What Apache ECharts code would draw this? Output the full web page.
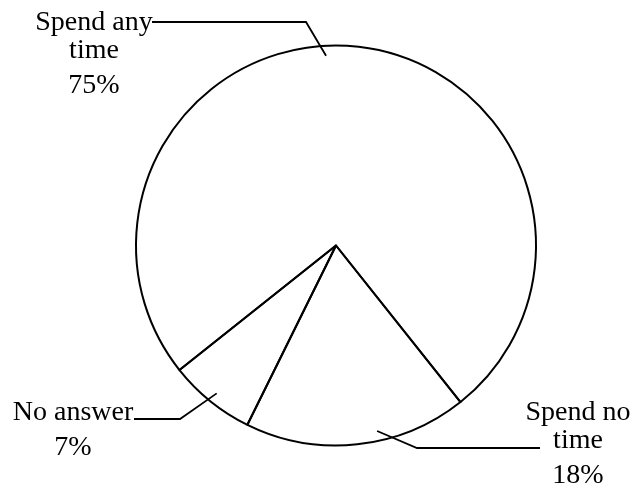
<!DOCTYPE html>
<html><head><meta charset="utf-8">
<script src="https://cdn.jsdelivr.net/npm/echarts@6/dist/echarts.min.js"></script>
<style>html,body{margin:0;padding:0;background:#fff}#chart{width:633px;height:494px}</style>
</head><body><div id="chart"></div>
<script>
// ---- data ----
const categories = ['Spend any time', 'Spend no time', 'No answer'];
const values = [75, 18, 7];
const labelTextLines = [['Spend any', 'time'], ['Spend no', 'time'], ['No answer']];

// ---- layout ----
const PIE_CENTER = [336, 245.5];
const PIE_RADIUS = 200;
const START_ANGLE = 218.5;
const labelPlacement = [
  { x: 94,  y: 8.5,   elbow: [306, 22],  endX: 152, tipShift: 9.5 },
  { x: 578, y: 398.5, elbow: [417, 448], endX: 540, tipShift: 6.4 },
  { x: 73,  y: 398.5, elbow: [180, 419], endX: 134, tipShift: 0 }
];

const total = values.reduce((a, b) => a + b, 0);
let acc = START_ANGLE;
const midAngles = values.map(v => {
  const span = v / total * 360;
  const m = acc - span / 2;
  acc -= span;
  return m;
});

const FONT = 'Liberation Serif';
const chart = echarts.init(document.getElementById('chart'));
chart.setOption({
  backgroundColor: '#fff',
  animation: false,
  series: [{
    type: 'pie',
    silent: true,
    center: PIE_CENTER,
    radius: PIE_RADIUS,
    startAngle: START_ANGLE,
    clockwise: true,
    avoidLabelOverlap: false,
    data: categories.map((c, i) => ({ name: c, value: values[i] })),
    itemStyle: { color: 'rgba(255,255,255,0)', borderColor: '#000', borderWidth: 2 },
    label: {
      show: true,
      position: 'outside',
      color: '#000',
      fontFamily: FONT,
      fontSize: 28,
      align: 'center',
      formatter: p => labelTextLines[p.dataIndex].map(l => '{n|' + l + '}').join('\n') +
        '\n{p|' + Math.round(p.percent) + '%}',
      rich: {
        n: { fontFamily: FONT, fontSize: 28, lineHeight: 28, color: '#000' },
        p: { fontFamily: FONT, fontSize: 28, lineHeight: 42, color: '#000' }
      }
    },
    labelLine: { show: true, length: 10, length2: 10, lineStyle: { color: '#000', width: 1.8 } },
    labelLayout: function (params) {
      const i = params.dataIndex;
      const cfg = labelPlacement[i];
      const a = (midAngles[i] + cfg.tipShift) * Math.PI / 180;
      const rr = PIE_RADIUS * 0.95;
      const tip = [PIE_CENTER[0] + rr * Math.cos(a), PIE_CENTER[1] - rr * Math.sin(a)];
      return {
        x: cfg.x,
        y: cfg.y,
        align: 'center',
        verticalAlign: 'top',
        labelLinePoints: [tip, cfg.elbow, [cfg.endX, cfg.elbow[1]]]
      };
    }
  }]
});
</script></body></html>
